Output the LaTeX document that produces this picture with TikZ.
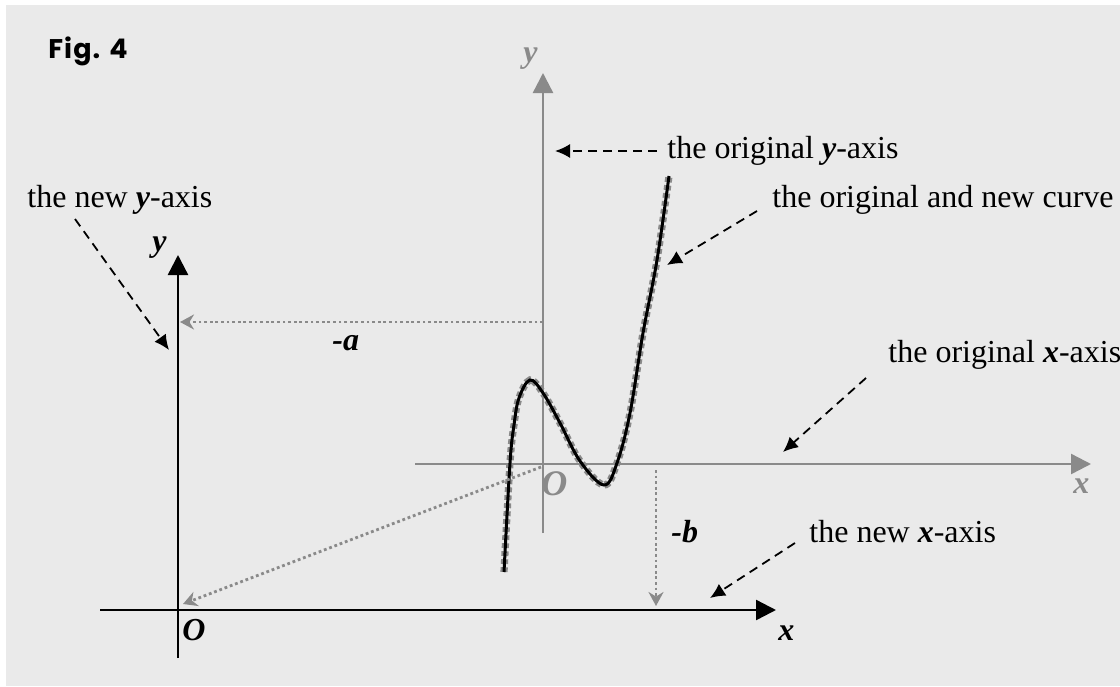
\documentclass[tikz,border=0pt]{standalone}
\usepackage{fontspec}
\setmainfont{Liberation Serif}
\newfontfamily\figfont[LetterSpace=4]{Poppins}
\usetikzlibrary{arrows.meta}
\definecolor{bg}{HTML}{EAEAEA}
\definecolor{axgrey}{HTML}{8A8A8A}
\tikzset{
  lbl/.style={font=\fontsize{16}{19}\selectfont, inner sep=0pt, anchor=base west},
  axlbl/.style={font=\fontsize{16}{19}\selectfont\bfseries\itshape, inner sep=0pt, anchor=base west},
  oldaxis/.style={draw=axgrey, line width=1.2pt, -{Triangle[length=10pt,width=10pt]}},
  newaxis/.style={draw=black, line width=1.2pt, -{Triangle[length=10pt,width=10pt]}},
  leader/.style={draw=black, line width=0.9pt, dash pattern=on 4.5pt off 3pt, -{Latex[length=7.5pt,width=7pt]}},
  shift arrow/.style={draw=axgrey, line width=1.4pt, dash pattern=on 1.4pt off 1.4pt, -{Stealth[length=7pt,width=7.5pt]}},
}
\begin{document}
\begin{tikzpicture}[x=0.5pt,y=-0.5pt]
\useasboundingbox (0,0) rectangle (1120,686);
\fill[white] (0,0) rectangle (1120,686);
\fill[bg] (6,5) rectangle (1120,686);

\node[font=\fontsize{13.5}{16}\selectfont\figfont\bfseries, inner sep=0pt, anchor=base west] (fig) at (48,58) {Fig. 4};

% original axes
\coordinate (O1) at (543,464);
\coordinate (oxL) at (415,464);
\coordinate (oxR) at (1091,464);
\coordinate (oyB) at (543,533);
\coordinate (oyT) at (543,73);
\draw[oldaxis] (oxL) -- (oxR);
\draw[oldaxis] (oyB) -- (oyT);
\node[axlbl, text=axgrey] (oylbl) at (523,62) {y};
\node[axlbl, text=axgrey] (oxlbl) at (1073,493) {x};
\node[axlbl, text=axgrey, font=\fontsize{18}{20}\selectfont\bfseries\itshape] (oOlbl) at (541,495) {O};

% new axes
\coordinate (O2) at (178,610);
\coordinate (nxL) at (100,610);
\coordinate (nxR) at (776,610);
\coordinate (nyB) at (178,658);
\coordinate (nyT) at (178,255);
\draw[newaxis] (nxL) -- (nxR);
\draw[newaxis] (nyB) -- (nyT);
\node[axlbl] (nylbl) at (152,251) {y};
\node[axlbl] (nxlbl) at (778,640) {x};
\node[axlbl] (nOlbl) at (182,640) {O};

% curve
\def\curvepts{(504,572) (510,463) (514,425) (519,398) (530,380) (543,393) (560,423) (580,461) (604,485) (617,463) (630,413) (643,333) (657,260) (669,176)}
\draw[axgrey, line width=3.6pt, dash pattern=on 2.4pt off 1.6pt] plot[smooth, tension=0.6] coordinates {\curvepts};
\draw[black, line width=1.5pt] plot[smooth, tension=0.6] coordinates {\curvepts};

% shift arrows
\coordinate (aS) at (543,322);
\coordinate (aT) at (180,322);
\draw[shift arrow] (aS) -- (aT);
\node[axlbl] (alab) at (332,350) {-a};
\coordinate (dS) at (541,467);
\coordinate (dT) at (183,604);
\draw[shift arrow] (dS) -- (dT);
\coordinate (bS) at (656,470);
\coordinate (bT) at (656,606);
\draw[shift arrow] (bS) -- (bT);
\node[axlbl] (blab) at (671,542) {-b};

% labels
\node[lbl] (tnewy) at (27,207) {the new \textbf{\textit{y}}-axis};
\node[lbl] (torigy) at (667,158) {the original \textbf{\textit{y}}-axis};
\node[lbl] (tcurve) at (772,207) {the original and new curve};
\node[lbl] (torigx) at (888,362) {the original \textbf{\textit{x}}-axis};
\node[lbl] (tnewx) at (809,542) {the new \textbf{\textit{x}}-axis};

\coordinate (l1s) at (75,219);  \coordinate (l1t) at (169,350);
\coordinate (l2s) at (657,151); \coordinate (l2t) at (555,151);
\coordinate (l3s) at (757,211); \coordinate (l3t) at (667,265);
\coordinate (l4s) at (866,378); \coordinate (l4t) at (783,452);
\coordinate (l5s) at (795,543); \coordinate (l5t) at (710,598);
\draw[leader] (l1s) -- (l1t);
\draw[leader] (l2s) -- (l2t);
\draw[leader] (l3s) -- (l3t);
\draw[leader] (l4s) -- (l4t);
\draw[leader] (l5s) -- (l5t);
\end{tikzpicture}
\end{document}
